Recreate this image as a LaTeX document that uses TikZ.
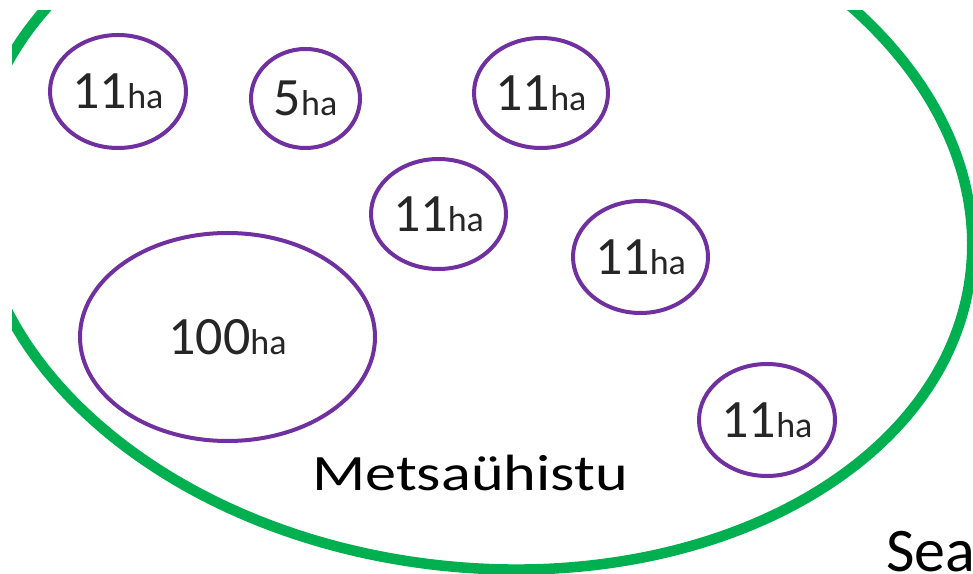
\documentclass[tikz,border=0pt]{standalone}
\usepackage{fontspec}
\setmainfont{Carlito}
\usetikzlibrary{shapes.geometric}
\definecolor{unionGreen}{HTML}{00B050}
\definecolor{plotPurple}{HTML}{7030A0}
\definecolor{areaText}{HTML}{262626}
\newcommand{\ha}{{\fontsize{36}{40}\selectfont ha}}

\begin{document}
\begin{tikzpicture}[x=1pt,y=1pt,
  parcel/.style={ellipse,draw=plotPurple,line width=4pt,inner sep=0pt,
    text=areaText,font=\fontsize{54}{60}\selectfont},
  label text/.style={inner sep=0pt,font=\fontsize{51}{56}\selectfont}]
\useasboundingbox (0,0) rectangle (973,573);
\clip (12,0) rectangle (973,562);
% the association
\draw[unionGreen,line width=10.5pt,rotate around={-6.8:(474,358)}] (474,358) ellipse (500 and 352);
% the owners' plots
\node[parcel,minimum width=136pt,minimum height=113pt] (lotA) at (118,481.5) {11\ha};
\node[parcel,minimum width=109pt,minimum height=99pt] (lotB) at (305.5,474.5) {5\ha};
\node[parcel,minimum width=134pt,minimum height=110pt] (lotC) at (541,480) {11\ha};
\node[parcel,minimum width=135pt,minimum height=110pt] (lotD) at (438.5,359) {11\ha};
\node[parcel,minimum width=135pt,minimum height=112pt] (lotE) at (640.5,316) {11\ha};
\node[parcel,minimum width=295pt,minimum height=208pt] (lotF) at (227.5,236) {100\ha};
\node[parcel,minimum width=136pt,minimum height=112pt] (lotG) at (767,153) {11\ha};
\node[label text,anchor=base] (union) at (470,83) {\scalebox{1.22}[1]{Metsaühistu}};
\node[label text,anchor=base west,font=\fontsize{62}{68}\selectfont] (society) at (886,2) {Sea};
\end{tikzpicture}
\end{document}
